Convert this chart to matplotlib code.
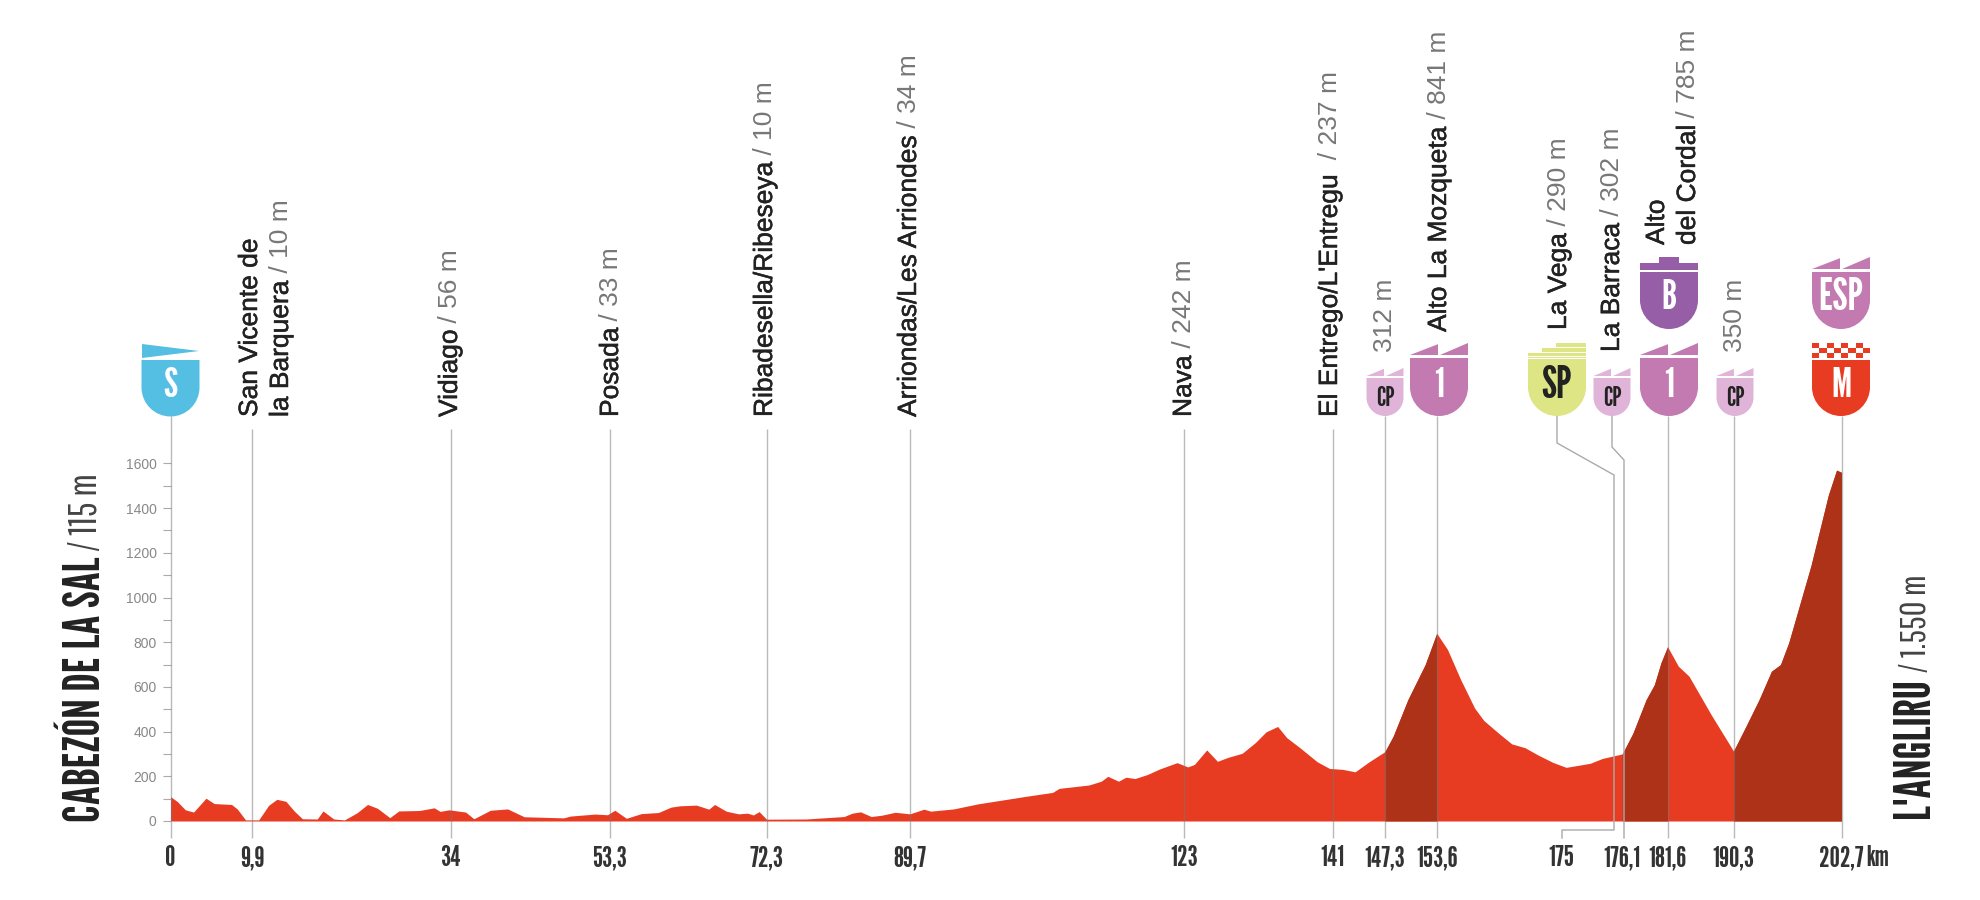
import numpy as np
import matplotlib
matplotlib.use('Agg')
import matplotlib.pyplot as plt
import matplotlib.patheffects as pe
from matplotlib.patches import PathPatch, Polygon, Rectangle
from matplotlib.path import Path

# profile
km = [0, .8, 1.8, 2.8, 4.3, 5.3, 7.4, 8.1, 9.1, 10.7, 11.9, 12.9, 14, 15, 16, 17.8, 18.5, 19.8, 21.1,
      22.6, 23.9, 25.1, 26.6, 27.7, 30.2, 32, 32.7, 33.8, 35.8, 36.8, 38.8, 40.9, 42.9, 47.7, 48.5,
      51.5, 53, 53.9, 55.3, 57.1, 59.2, 60.7, 61.8, 63.8, 65.3, 66, 67.4, 68.9, 70, 70.7, 71.4, 72.3,
      77.1, 81.7, 82.7, 83.7, 85, 86.3, 87.9, 89.7, 91.4, 92.2, 95, 98, 100.6, 103.7, 107, 107.8,
      111.4, 112.9, 113.7, 115, 115.9, 117, 118.5, 120, 122.1, 123.4, 124.2, 125.7, 127, 128.3, 130,
      131.6, 132.9, 134.3, 135.4, 137, 139.1, 140.6, 142.2, 143.7, 145.4, 147.3, 148.3, 150.1, 152.2,
      153.6, 154.9, 156.5, 158.2, 159.3, 161.1, 162.7, 164.3, 165.9, 167.7, 169.3, 172.2, 173.7,
      176.1, 177.4, 179, 180, 180.8, 181.6, 182.9, 184.2, 186.9, 189.6, 191.1, 192.7, 194.2, 195.3,
      196.3, 199, 201.1, 202.1, 202.7]
alt = [109, 88, 50, 40, 102, 78, 74, 54, 5, 5, 70, 97, 88, 45, 10, 9, 45, 9, 5,
       36, 74, 57, 15, 45, 47, 59, 43, 50, 40, 10, 48, 54, 19, 14, 22,
       31, 28, 48, 12, 33, 38, 62, 68, 71, 53, 74, 44, 32, 35, 27, 42, 8,
       9, 20, 35, 41, 20, 26, 39, 32, 53, 44, 54, 77, 92, 110, 128, 146,
       161, 178, 200, 178, 196, 190, 208, 233, 261, 242, 253, 318, 267, 285, 303,
       351, 399, 423, 373, 328, 265, 235, 231, 220, 265, 310, 378, 543, 700,
       840, 768, 633, 505, 450, 393, 345, 328, 295, 262, 240, 258, 280,
       300, 393, 543, 610, 708, 780, 693, 648, 475, 313, 423, 543, 670, 700,
       798, 1143, 1458, 1570, 1560]
climbs = [(147.3, 153.6), (176.1, 181.6), (189.6, 202.7)]

tick_km = [0, 9.9, 34, 53.3, 72.3, 89.7, 123, 141, 147.3, 153.6, 168.7, 176.1, 181.6, 189.6, 202.7]
tick_labels = ['0', '9,9', '34', '53,3', '72,3', '89,7', '123', '141', '147,3', '153,6', '175',
               '176,1', '181,6', '190,3', '202,7']
line_km = [9.9, 34, 53.3, 72.3, 89.7, 123, 141]
badge_line_km = [0, 147.3, 153.6, 181.6, 189.6, 202.7]
y_major = [0, 200, 400, 600, 800, 1000, 1200, 1400, 1600]
y_minor = [100, 300, 500, 700, 900, 1100, 1300, 1500]

# name, height, x px, bottom y px
places = [
    ('San Vicente de', '', 250, 417),
    ('la Barquera', ' / 10 m', 281, 417),
    ('Vidiago', ' / 56 m', 450, 417),
    ('Posada', ' / 33 m', 611, 417),
    ('Ribadesella/Ribeseya', ' / 10 m', 765, 417),
    ('Arriondas/Les Arriondes', ' / 34 m', 909, 417),
    ('Nava', ' / 242 m', 1184, 417),
    ("El Entrego/L'Entregu", '  / 237 m', 1330, 417),
    ('', '312 m', 1385, 352),
    ('Alto La Mozqueta', ' / 841 m', 1439, 332),
    ('La Vega', ' / 290 m', 1559, 330),
    ('La Barraca', ' / 302 m', 1612, 352),
    ('Alto', '', 1657, 245),
    ('del Cordal', ' / 785 m', 1688, 245),
    ('', '350 m', 1735, 352),
]

RED = '#e73c22'
DARK = '#ad3217'
PINK = '#c27ab1'
LIGHT = '#e0b4d8'
PURPLE = '#955ea7'
LIME = '#dde585'
BLUE = '#55bfe3'
GOTHIC = ['League Gothic', 'Bebas Neue', 'Oswald', 'Open Sans']
THIN = ['Pathway Gothic One', 'League Gothic', 'Open Sans']

fig = plt.figure(figsize=(19.8, 9), dpi=100)
ax = fig.add_axes([170.5 / 1980, 1 - 821 / 900, (1841.5 - 170.5) / 1980, (821 - 463.4) / 900])
ax.set_xlim(0, 202.7)
ax.set_ylim(0, 1600)
for s in ax.spines.values():
    s.set_visible(False)

km = np.array(km)
alt = np.array(alt)
ax.fill_between(km, 0, alt, color=RED, lw=0)
for a, b in climbs:
    ax.fill_between(km, 0, alt, where=(km >= a) & (km <= b), color=DARK, lw=0)

ax.vlines(line_km, -76, 1755, color='#777777', alpha=.5, lw=1, clip_on=False)
ax.vlines(badge_line_km, -76, 1810, color='#777777', alpha=.5, lw=1, clip_on=False)

ax.set_xticks(tick_km, tick_labels, fontfamily=GOTHIC, fontsize=21, color='#333333')
ax.tick_params(axis='x', length=0, pad=17.5)
ax.set_yticks(y_major, [str(v) for v in y_major], fontfamily='Liberation Sans', fontsize=10, color='#888888')
ax.set_yticks(y_minor, minor=True)
ax.tick_params(axis='y', which='both', length=6, width=.8, color='#aaaaaa', pad=4)

# everything around the plot is laid out in figure pixels
ov = fig.add_axes([0, 0, 1, 1])
ov.set_xlim(0, 1980)
ov.set_ylim(900, 0)
ov.axis('off')
ov.patch.set_alpha(0)


def two_part(x, y, name, rest, font='Liberation Sans', font2=None, size=19, size2=None, c1='#222222', c2='#777777', stroke=.35):
    # name in dark, height in grey right after it, both reading upwards
    top = y
    if name:
        t = ov.text(x, y, name, rotation=90, ha='center', va='bottom', family=font, size=size, color=c1)
        if stroke:
            t.set_path_effects([pe.withStroke(linewidth=stroke, foreground=c1)])
        bb = t.get_window_extent(fig.canvas.get_renderer())
        top = 900 - bb.y1
    if rest:
        ov.text(x, top, rest, rotation=90, ha='center', va='bottom', family=font2 or font, size=size2 or size, color=c2)


def shield(x, top, bottom, w, color):
    h = w / 2
    k = .55 * h
    s = bottom - h
    verts = [(x - h, top), (x + h, top), (x + h, s), (x + h, s + k), (x + k, bottom), (x, bottom),
             (x - k, bottom), (x - h, s + k), (x - h, s), (x - h, top)]
    codes = [Path.MOVETO, Path.LINETO, Path.LINETO, Path.CURVE4, Path.CURVE4, Path.CURVE4,
             Path.CURVE4, Path.CURVE4, Path.CURVE4, Path.CLOSEPOLY]
    ov.add_patch(PathPatch(Path(verts, codes), fc=color, ec='none', zorder=3))


def saw(x, top, bottom, w, color):
    h = w / 2
    ov.add_patch(Polygon([(x - h, bottom), (x - 1, top + .1 * (bottom - top)), (x - 1, bottom)], fc=color, ec='none'))
    ov.add_patch(Polygon([(x + 1, bottom), (x + h, top), (x + h, bottom)], fc=color, ec='none'))


def badge_text(x, y, s, color='white', size=28):
    ov.text(x, y, s, ha='center', va='center', family=GOTHIC, size=size, color=color, zorder=4)


for name, rest, x, y in places:
    two_part(x, y, name, rest)

two_part(86, 822, 'CABEZÓN DE LA SAL', ' / 115 m', font=GOTHIC, font2=THIN, size=35.5, size2=28, c2='#444444', stroke=0)
two_part(1915, 818, "L'ANGLIRU", ' / 1.550 m', font=GOTHIC, font2=THIN, size=36, size2=26, c2='#444444', stroke=0)
ov.text(1866, 866, 'km', ha='left', va='baseline', family=GOTHIC, size=21, color='#333333')

# start badge
shield(170.5, 360, 416.5, 58, BLUE)
ov.add_patch(Polygon([(142, 344), (199, 351), (142, 358)], fc=BLUE, ec='none'))
badge_text(170.5, 386, 'S', size=30)

# climb badges
for x in [1439, 1669]:
    shield(x, 358, 416, 58, PINK)
    saw(x, 343, 355, 58, PINK)
    badge_text(x, 386, '1', size=30)

for x in [1385, 1612, 1735]:
    shield(x, 378, 416, 37, LIGHT)
    saw(x, 368, 376, 37, LIGHT)
    badge_text(x, 398, 'CP', color='#222222', size=19)

shield(1841, 272, 329, 58, PINK)
saw(1841, 257, 269, 58, PINK)
badge_text(1841, 298, 'ESP', size=32)

shield(1669, 272, 329, 58, PURPLE)
ov.add_patch(Rectangle((1640, 263), 58, 6.5, fc=PURPLE, ec='none'))
ov.add_patch(Rectangle((1659, 257), 20, 6.5, fc=PURPLE, ec='none'))
badge_text(1669, 298, 'B', size=30)

shield(1841, 360, 416, 58, RED)
for r in range(3):
    for c in range(8):
        if (r + c) % 2 == 0:
            ov.add_patch(Rectangle((1812 + c * 7.25, 343 + r * 5), 7.25, 5, fc=RED, ec='none'))
badge_text(1841, 386, 'M', size=30)

shield(1557, 359, 416, 58, LIME)
ov.add_patch(Rectangle((1556, 343), 30, 4, fc=LIME, ec='none'))
ov.add_patch(Rectangle((1542, 348), 44, 3.5, fc=LIME, ec='none'))
ov.add_patch(Rectangle((1528, 353), 58, 2.5, fc=LIME, ec='none'))
ov.add_patch(Rectangle((1528, 356.5), 58, 1.5, fc=LIME, ec='none'))
badge_text(1557, 386, 'SP', color='#222222', size=32)

# leader lines for the two stops that sit too close together
ov.plot([1557, 1557, 1614, 1614, 1562, 1562], [416, 443, 475, 830, 830, 838], color='#aaaaaa', lw=1)
ov.plot([1612, 1612, 1624, 1624], [416, 447, 460, 838], color='#aaaaaa', lw=1)

fig.savefig('out.png', dpi=100, facecolor='white')
